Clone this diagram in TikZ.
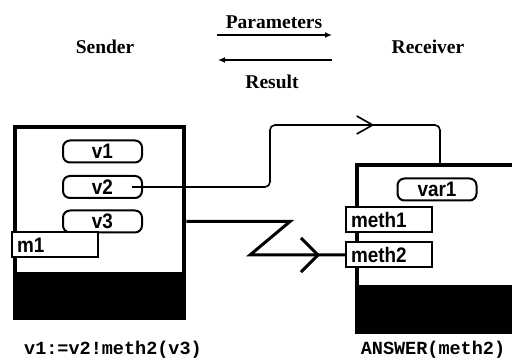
\documentclass[tikz,border=0pt]{standalone}
\usepackage{fontspec}
\setmainfont{Liberation Serif}
\newfontfamily\boxfont[FakeStretch=0.9]{Liberation Sans}
\newfontfamily\codefont{Liberation Mono}
\usetikzlibrary{arrows.meta,decorations.markings}
\begin{document}
\begin{tikzpicture}[x=1pt,y=-1pt,
  title/.style={font=\fontsize{19.5}{21}\selectfont\bfseries, inner sep=0pt},
  varbox/.style={draw, line width=2pt, rounded corners=7pt, minimum width=79pt, minimum height=22pt, inner sep=0pt, fill=white, font=\boxfont\bfseries\fontsize{21}{22}\selectfont},
  methbox/.style={draw, line width=2pt, minimum height=25pt, inner ysep=0pt, inner xsep=5pt, text width=76pt, align=left, fill=white, font=\boxfont\bfseries\fontsize{21}{22}\selectfont},
  code/.style={font=\codefont\bfseries\fontsize{18.5}{20}\selectfont, inner sep=0pt},
  frame/.style={line width=4.5pt},
  thinlink/.style={line width=1.6pt, rounded corners=5pt},
  thicklink/.style={line width=3pt},
  flow/.style={line width=2.5pt, -{Latex[length=7pt,width=6pt]}},
  smallbarb/.style={postaction={decorate, decoration={markings, mark=at position #1 with {\arrow{Straight Barb[length=16pt,width=18pt]}}}}},
  bigbarb/.style={postaction={decorate, decoration={markings, mark=at position #1 with {\arrow{Straight Barb[length=17pt,width=34pt]}}}}}
]
\useasboundingbox (0,0) rectangle (512,358);

% top labels
\node[title] (sender) at (105,47) {Sender};
\node[title] (receiver) at (428,47) {Receiver};
\node[title] (params) at (274,22) {Parameters};
\node[title] (result) at (272,82) {Result};
\coordinate (pa) at (217,35);
\coordinate (pb) at (332,35);
\coordinate (ra) at (332,60);
\coordinate (rb) at (218,60);
\draw[flow] (pa) -- (pb);
\draw[flow] (ra) -- (rb);

% sender object
\node[draw, frame, minimum width=169pt, minimum height=191pt, inner sep=0pt] (senderbox) at (99.5,222.5) {};
\fill (15,272) rectangle (184,318);
\node[varbox] (v1) at (102.5,151.5) {v1};
\node[varbox] (v2) at (102.5,187) {v2};
\node[varbox] (v3) at (102.5,221.5) {v3};
\node[methbox] (m1) at (55,245) {m1};

% receiver object
\fill (357,285) rectangle (512,332);
\draw[frame] (512,165) -- (357,165) -- (357,332) -- (512,332);
\node[varbox] (var1) at (437,189.5) {var1};
\node[methbox] (meth1) at (389,220) {meth1};
\node[methbox] (meth2) at (389,255) {meth2};

% connectors
\coordinate (v2start) at (132,187);
\coordinate (rtop) at (440,165);
\draw[thinlink, smallbarb=300pt] (v2start) -| (270,125) -| (rtop);
\draw[thicklink, bigbarb=226pt] (v3 -| senderbox.east) -- (290,221.5) -- (250,255) -- (meth2.west);

% code labels
\node[code] (sendcode) at (113,350) {v1:=v2!meth2(v3)};
\node[code] (recvcode) at (433,350) {ANSWER(meth2)};
\end{tikzpicture}
\end{document}
